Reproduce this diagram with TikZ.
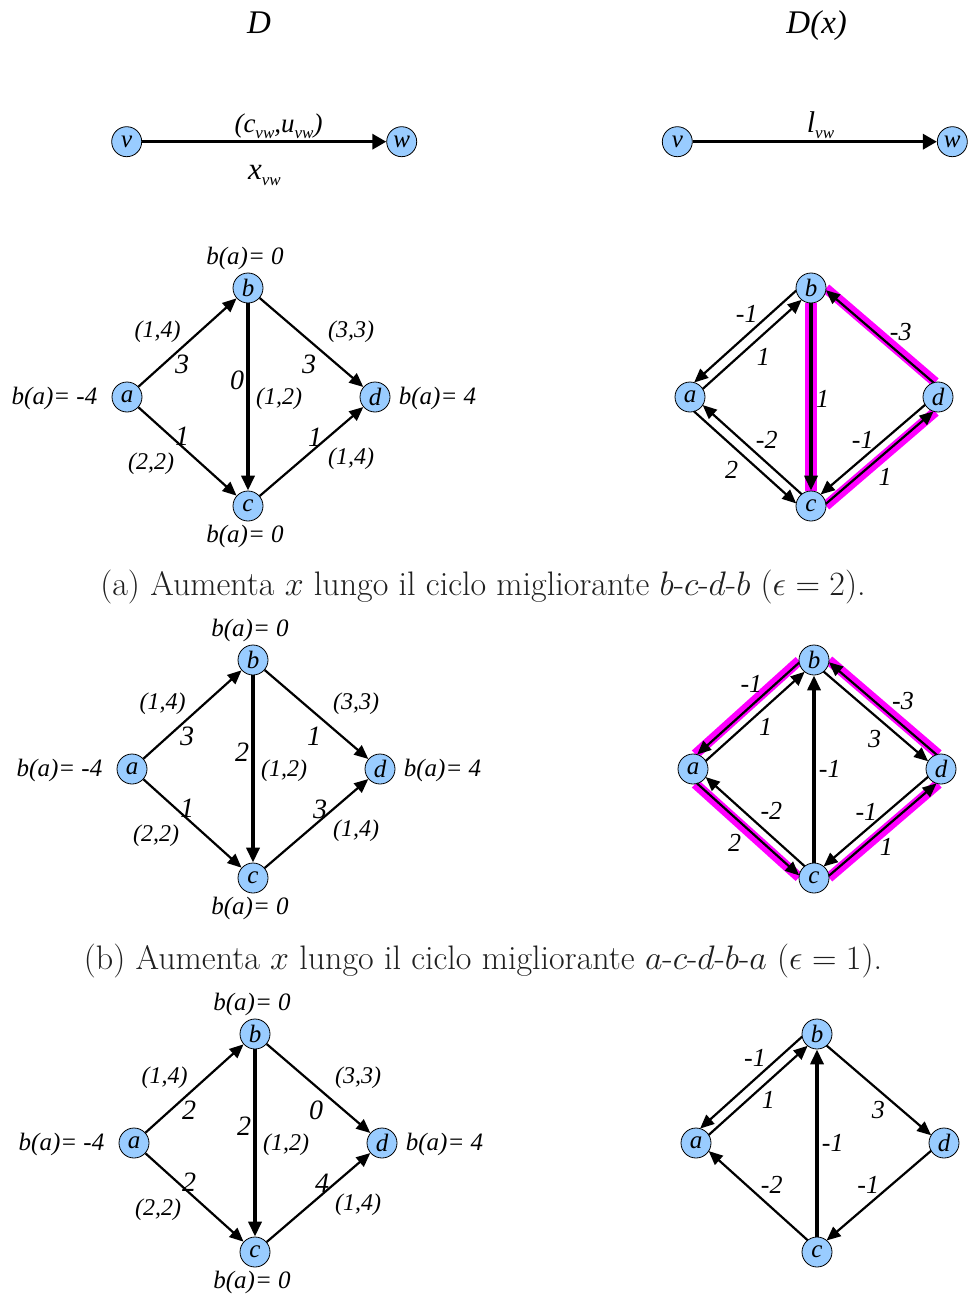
\RequirePackage{fix-cm}
\documentclass[tikz,border=0pt]{standalone}
\usepackage{fontspec}
\newfontfamily\tnr{Liberation Serif}
\usetikzlibrary{arrows.meta,calc}
\pgfdeclarelayer{background}
\pgfsetlayers{background,main}
\definecolor{nodeblue}{RGB}{153,204,255}
\definecolor{hlmag}{RGB}{255,0,255}
\tikzset{
  vtx/.style={circle,draw=black,line width=0.8pt,fill=nodeblue,minimum size=30pt,inner sep=0pt,
    font=\tnr\itshape\fontsize{25}{25}\selectfont},
  edge/.style={line width=2.2pt,-{Triangle[length=14pt,width=12pt]}},
  thickedge/.style={line width=3.5pt,-{Triangle[length=15pt,width=13pt]}},
  topedge/.style={line width=3.3pt,-{Triangle[length=14pt,width=15pt]}},
  lbl/.style={font=\tnr\itshape\fontsize{24}{24}\selectfont,inner sep=0pt},
  blbl/.style={font=\tnr\itshape\fontsize{25}{25}\selectfont,inner sep=0pt},
  flow/.style={font=\tnr\itshape\fontsize{28}{28}\selectfont,inner sep=0pt},
  rlbl/.style={font=\tnr\itshape\fontsize{26}{26}\selectfont,inner sep=0pt},
  ttl/.style={font=\tnr\itshape\fontsize{33}{33}\selectfont,inner sep=0pt,anchor=base},
  captext/.style={font=\fontsize{34}{34}\selectfont,text=black!88,inner sep=0pt},
}
\newcommand\sbx[1]{\raisebox{-6pt}{\fontsize{17}{17}\selectfont #1}}
\newcommand\offarrow[4][edge]{%
  \pgfmathsetmacro\offL{sqrt(225-(#4)*(#4))}%
  \draw[#1,shorten <=\offL pt,shorten >=\offL pt]
    ($(#2.center)!#4pt!-90:(#3.center)$) -- ($(#3.center)!#4pt!90:(#2.center)$);%
}
\newcommand\hlband[4][10pt]{%
  \begin{pgfonlayer}{background}%
  \pgfmathsetmacro\offL{sqrt(225-(#4)*(#4))}%
  \draw[draw=hlmag,line width=#1,shorten <=\offL pt,shorten >=\offL pt]
    ($(#2.center)!#4pt!-90:(#3.center)$) -- ($(#3.center)!#4pt!90:(#2.center)$);%
  \end{pgfonlayer}%
}
\newcommand\leftgraph[7]{%
\begin{scope}[shift={#2}]
\node[vtx] (#1a) at (0,0) {a};
\node[vtx] (#1b) at (121,-109) {b};
\node[vtx] (#1c) at (121,109) {c};
\node[vtx] (#1d) at (248,0) {d};
\draw[edge] (#1a) -- (#1b);
\draw[edge] (#1b) -- (#1d);
\draw[edge] (#1a) -- (#1c);
\draw[edge] (#1c) -- (#1d);
\draw[thickedge] (#1b) -- (#1c);
\node[blbl] (#1ba) at (118,-138.5) {b(a)= 0};
\node[blbl] (#1bb) at (-72.5,1.5) {b(a)= -4};
\node[blbl] (#1bc) at (310.5,1.5) {b(a)= 4};
\node[blbl] (#1bd) at (118,139.5) {b(a)= 0};
\node[lbl] (#1cab) at (30.5,-65) {(1,4)};
\node[flow] (#1fab) at (55,-32.5) {#3};
\node[lbl] (#1cbd) at (224,-65) {(3,3)};
\node[flow] (#1fbd) at (182,-33) {#4};
\node[flow] (#1fbc) at (110,-16.5) {#5};
\node[lbl] (#1cbc) at (152,1.8) {(1,2)};
\node[flow] (#1fac) at (55,39.5) {#6};
\node[lbl] (#1cac) at (24,66.7) {(2,2)};
\node[flow] (#1fcd) at (188,40) {#7};
\node[lbl] (#1ccd) at (224,61.5) {(1,4)};
\end{scope}}
\newcommand\rightnodes[2]{%
\begin{scope}[shift={#2}]
\node[vtx] (#1a) at (0,0) {a};
\node[vtx] (#1b) at (121,-109) {b};
\node[vtx] (#1c) at (121,109) {c};
\node[vtx] (#1d) at (248,0) {d};
\end{scope}}

\begin{document}
\begin{tikzpicture}[x=1pt,y=-1pt]
\useasboundingbox (0,0) rectangle (967,1297);

% titles
\node[ttl] (tD) at (259,33.3) {D};
\node[ttl] (tDx) at (816.7,33.3) {D(x)};

% top legend
\node[vtx] (v1) at (126.7,141.7) {v};
\node[vtx] (w1) at (401.7,141.7) {w};
\draw[topedge] (v1) -- (w1);
\node[font=\tnr\itshape\fontsize{27}{27}\selectfont,inner sep=0pt,anchor=base] (lcu) at (278.5,132.5) {(c\sbx{vw},u\sbx{vw})};
\node[font=\tnr\itshape\fontsize{31}{31}\selectfont,inner sep=0pt,anchor=base] (lx) at (264.5,180) {x\sbx{vw}};
\node[vtx] (v2) at (677.3,141.7) {v};
\node[vtx] (w2) at (952.3,141.7) {w};
\draw[topedge] (v2) -- (w2);
\node[font=\tnr\itshape\fontsize{30}{30}\selectfont,inner sep=0pt,anchor=base] (ll) at (820.5,133) {l\sbx{vw}};

% ---------- (a)
\leftgraph{A}{(127,397)}{3}{3}{0}{1}{1}
\rightnodes{P}{(690,397)}
\hlband[12pt]{Pb}{Pc}{0}
\hlband{Pd}{Pb}{9.5}
\hlband{Pc}{Pd}{9.5}
\offarrow{Pb}{Pa}{8}
\offarrow{Pa}{Pb}{2.5}
\draw[thickedge] (Pb) -- (Pc);
\offarrow{Pd}{Pb}{8}
\offarrow{Pc}{Pa}{2.5}
\offarrow{Pa}{Pc}{8}
\offarrow{Pd}{Pc}{2.5}
\offarrow{Pc}{Pd}{8}
\begin{scope}[shift={(690,397)}]
\node[rlbl] (P1) at (56.7,-83.4) {-1};
\node[rlbl] (P2) at (73.3,-40) {1};
\node[rlbl] (P3) at (132.7,1.6) {1};
\node[rlbl] (P4) at (210.7,-65) {-3};
\node[rlbl] (P5) at (76.7,43.3) {-2};
\node[rlbl] (P6) at (41.7,72.6) {2};
\node[rlbl] (P7) at (172.7,43.3) {-1};
\node[rlbl] (P8) at (195,80) {1};
\end{scope}
\node[captext] (capA) at (483,587) {(a) Aumenta $x$ lungo il ciclo migliorante $b$-$c$-$d$-$b$ ($\epsilon=2$).};

% ---------- (b)
\leftgraph{B}{(132,769)}{3}{1}{2}{1}{3}
\rightnodes{Q}{(693,769)}
\hlband{Qb}{Qa}{9.5}
\hlband{Qd}{Qb}{9.5}
\hlband{Qa}{Qc}{9.5}
\hlband{Qc}{Qd}{9.5}
\offarrow{Qb}{Qa}{8}
\offarrow{Qa}{Qb}{2.5}
\draw[thickedge] (Qc) -- (Qb);
\offarrow{Qd}{Qb}{8}
\offarrow{Qb}{Qd}{2.5}
\offarrow{Qc}{Qa}{2.5}
\offarrow{Qa}{Qc}{8}
\offarrow{Qd}{Qc}{2.5}
\offarrow{Qc}{Qd}{8}
\begin{scope}[shift={(693,769)}]
\node[rlbl] (Q1) at (58.4,-85) {-1};
\node[rlbl] (Q2) at (72.7,-41.6) {1};
\node[rlbl] (Q3) at (136.7,0) {-1};
\node[rlbl] (Q4) at (210,-68.3) {-3};
\node[rlbl] (Q5) at (181.7,-30) {3};
\node[rlbl] (Q6) at (78.4,41.7) {-2};
\node[rlbl] (Q7) at (41.7,73.4) {2};
\node[rlbl] (Q8) at (173.4,43.4) {-1};
\node[rlbl] (Q9) at (193.4,78.4) {1};
\end{scope}
\node[captext] (capB) at (483,961) {(b) Aumenta $x$ lungo il ciclo migliorante $a$-$c$-$d$-$b$-$a$ ($\epsilon=1$).};

% ---------- (c)
\leftgraph{C}{(134,1143)}{2}{0}{2}{2}{4}
\rightnodes{R}{(696,1143)}
\offarrow{Rb}{Ra}{8}
\offarrow{Ra}{Rb}{2.5}
\draw[thickedge] (Rc) -- (Rb);
\offarrow{Rb}{Rd}{2.5}
\offarrow{Rc}{Ra}{2.5}
\offarrow{Rd}{Rc}{2.5}
\begin{scope}[shift={(696,1143)}]
\node[rlbl] (R1) at (59,-84.7) {-1};
\node[rlbl] (R2) at (72.3,-43) {1};
\node[rlbl] (R3) at (136.7,0.3) {-1};
\node[rlbl] (R4) at (182.3,-33) {3};
\node[rlbl] (R5) at (75.7,42) {-2};
\node[rlbl] (R6) at (172.3,42) {-1};
\end{scope}
\end{tikzpicture}
\end{document}
